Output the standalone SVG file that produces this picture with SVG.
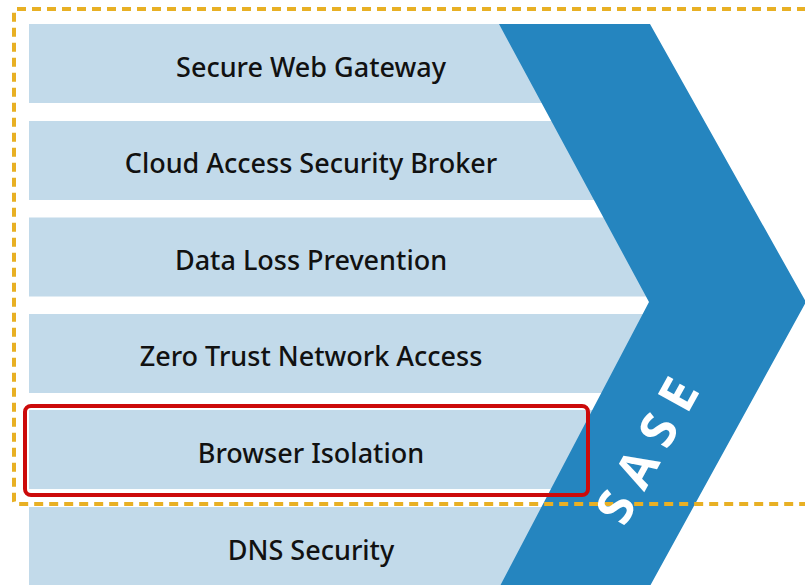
<svg xmlns="http://www.w3.org/2000/svg" width="805" height="585" viewBox="0 0 805 585">
<style>
.bar{fill:#C2DAEA}
.lbl{font-family:"Noto Sans","Liberation Sans",sans-serif;font-weight:500;font-size:27px;fill:#111;text-anchor:middle}
.sase{font-family:"Open Sans","Liberation Sans",sans-serif;font-weight:bold;font-size:50px;fill:#fff;text-anchor:middle;letter-spacing:13px}
</style>
<rect width="805" height="585" fill="#fff"/>
<g id="bars">
<g id="swg"><rect class="bar" x="29" y="24" width="620" height="79"/><text class="lbl" x="311" y="77">Secure Web Gateway</text></g>
<g id="casb"><rect class="bar" x="29" y="121" width="620" height="79"/><text class="lbl" x="311" y="173">Cloud Access Security Broker</text></g>
<g id="dlp"><rect class="bar" x="29" y="217.5" width="620" height="79"/><text class="lbl" x="311" y="270">Data Loss Prevention</text></g>
<g id="ztna"><rect class="bar" x="29" y="314" width="620" height="79"/><text class="lbl" x="311" y="366">Zero Trust Network Access</text></g>
<g id="bi"><rect class="bar" x="29" y="410" width="620" height="79"/><text class="lbl" x="311" y="463">Browser Isolation</text></g>
<g id="dns"><rect class="bar" x="29" y="507" width="620" height="79"/><text class="lbl" x="311" y="560">DNS Security</text></g>
</g>
<polygon id="chevron" points="499,24 650,24 806,302 650,586 500,586 649,302" fill="#2585BF"/>
<g id="connectors">
<rect id="highlight" x="25" y="406" width="563" height="89" rx="6" fill="none" stroke="#CC0A0A" stroke-width="4"/>
<rect id="scope" x="14" y="9" width="820" height="495" rx="3" fill="none" stroke="#E8B024" stroke-width="4" stroke-dasharray="9 6"/>
</g>
<g id="sase">
<text class="sase" transform="translate(647,450) rotate(-61)" x="6" y="18">SASE</text>
</g>
</svg>
